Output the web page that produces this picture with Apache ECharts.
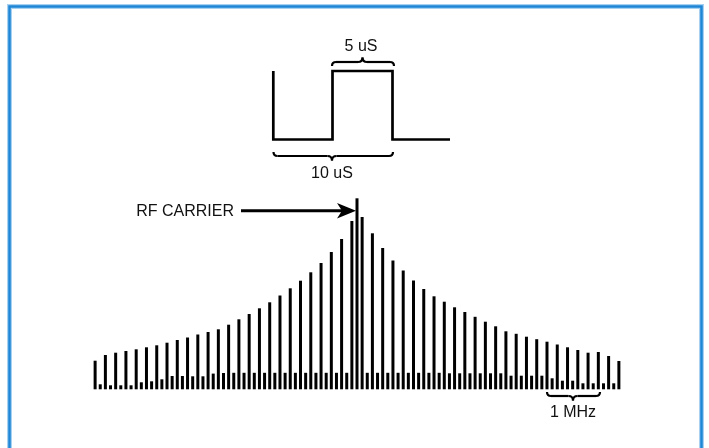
<!DOCTYPE html>
<html>
<head>
<meta charset="utf-8">
<script src="https://cdn.jsdelivr.net/npm/echarts@6/dist/echarts.min.js"></script>
<style>
html,body{margin:0;padding:0;background:#fff;}
#chart{width:709px;height:448px;}
</style>
</head>
<body>
<div id="chart"></div>
<script>
// Spectrum line amplitudes (arbitrary units)
// Tall sidebands, left side, from outermost (k=25) to innermost (k=0)
var tallLeftAmps = [28.6, 34.3, 36.6, 38.3, 40, 42, 44, 46.6, 49.3, 51.8, 54.8, 57.3, 60, 64.6, 70, 75.3, 81, 87, 93.8, 101, 108.6, 117, 126.3, 137.3, 150.3, 168.3];
// RF carrier
var carrierAmp = 191;
// Tall sidebands, right side, from innermost (k=0) to outermost (k=25)
var tallRightAmps = [172.3, 156, 141.3, 128.8, 118.8, 108.8, 100.3, 93, 87.6, 82, 77.3, 72.5, 67.6, 63, 58, 55.5, 52.6, 50.1, 47.6, 44.8, 42, 39.3, 36.6, 37.3, 33.3, 28.3];
// Small lines between tall lines, left side, outermost (k=25) to innermost (k=1)
var smallLeftAmps = [5, 4, 4, 4, 7, 8, 10, 13.3, 13.3, 13, 13, 15.7, 16.3, 16.5, 16.5, 16.5, 16.5, 16.5, 16.5, 16.5, 16.5, 16.5, 16.5, 16.5, 16.5];
// Small lines, right side, innermost (k=1) to outermost (k=25)
var smallRightAmps = [16.5, 16.5, 16.5, 16.5, 16.5, 16.5, 16.5, 16.5, 16, 16, 16, 16, 16, 16, 13.6, 13.6, 13.6, 13.6, 11, 8.6, 8.6, 6, 6, 6, 6];

// Text labels
var labelPulseWidth = '5 uS';
var labelPeriod = '10 uS';
var labelCarrier = 'RF CARRIER';
var labelSpacing = '1 MHz';

// Build the ordered slot list (half-line spacing per slot)
var categories = [];
var values = [];
for (var j = 0; j < tallLeftAmps.length; j++) {
  values.push(tallLeftAmps[j]);
  if (j < smallLeftAmps.length) values.push(smallLeftAmps[j]);
}
values.push(carrierAmp);
for (var j2 = 0; j2 < tallRightAmps.length; j2++) {
  values.push(tallRightAmps[j2]);
  if (j2 < smallRightAmps.length) values.push(smallRightAmps[j2]);
}
var mid = (values.length - 1) / 2;
for (var i = 0; i < values.length; i++) categories.push(String((i - mid) / 2));

var FONT = '16px "Liberation Sans", Arial, sans-serif';
var INK = '#111';

// horizontal curly brace; s=+1: ends curl down, tip up; s=-1: ends curl up, tip down
function brace(x1, x2, xm, y, s) {
  var st = {stroke: '#000', lineWidth: 2.2, fill: 'none'};
  var e = 4, t = 4.5;
  return [
    {type: 'bezierCurve', shape: {x1: x1, y1: y + e * s, cpx1: x1, cpy1: y, x2: x1 + 4, y2: y}, style: st},
    {type: 'line', shape: {x1: x1 + 4, y1: y, x2: xm - t, y2: y}, style: st},
    {type: 'bezierCurve', shape: {x1: xm - t, y1: y, cpx1: xm, cpy1: y, x2: xm, y2: y - t * s}, style: st},
    {type: 'bezierCurve', shape: {x1: xm, y1: y - t * s, cpx1: xm, cpy1: y, x2: xm + t, y2: y}, style: st},
    {type: 'line', shape: {x1: xm + t, y1: y, x2: x2 - 4, y2: y}, style: st},
    {type: 'bezierCurve', shape: {x1: x2 - 4, y1: y, cpx1: x2, cpy1: y, x2: x2, y2: y + e * s}, style: st}
  ];
}

var graphics = [
  // frame
  {type: 'rect', shape: {x: 9.5, y: 6.5, width: 692, height: 470}, style: {fill: 'none', stroke: '#a8d0f0', lineWidth: 5}},
  {type: 'rect', shape: {x: 9.5, y: 6.5, width: 692, height: 470}, style: {fill: 'none', stroke: '#1f86d6', lineWidth: 2.5}},
  // square wave
  {type: 'polyline', shape: {points: [[273.3, 71], [273.3, 139.5], [332.5, 139.5], [332.5, 71], [392.5, 71], [392.5, 139.5], [450, 139.5]]},
    style: {stroke: '#000', lineWidth: 2.7, fill: 'none', lineJoin: 'miter'}},
  // arrow
  {type: 'line', shape: {x1: 241, y1: 210.7, x2: 346, y2: 210.7}, style: {stroke: '#000', lineWidth: 3}},
  {type: 'polygon', shape: {points: [[356, 210.7], [337, 203], [342, 210.7], [337, 218.4]]}, style: {fill: '#000'}},
  // texts
  {type: 'text', x: 361, y: 46.5, style: {text: labelPulseWidth, font: FONT, fill: INK, textAlign: 'center', textVerticalAlign: 'middle'}},
  {type: 'text', x: 332, y: 174, style: {text: labelPeriod, font: FONT, fill: INK, textAlign: 'center', textVerticalAlign: 'middle'}},
  {type: 'text', x: 234, y: 211.5, style: {text: labelCarrier, font: FONT, fill: INK, textAlign: 'right', textVerticalAlign: 'middle'}},
  {type: 'text', x: 573, y: 413, style: {text: labelSpacing, font: FONT, fill: INK, textAlign: 'center', textVerticalAlign: 'middle'}}
];
graphics = graphics.concat(brace(332, 394, 362.5, 62, 1));
graphics = graphics.concat(brace(273.5, 393, 332, 156, -1));
graphics = graphics.concat(brace(547, 600, 573, 396, -1));

var chart = echarts.init(document.getElementById('chart'), null, {renderer: 'canvas'});
chart.setOption({
  backgroundColor: '#ffffff',
  animation: false,
  grid: {left: 92.55, right: 87.55, top: 189.3, bottom: 58.7},
  xAxis: {type: 'category', data: categories, show: false},
  yAxis: {type: 'value', min: 0, max: 200, show: false},
  series: [{
    type: 'bar',
    data: values,
    barWidth: 3,
    itemStyle: {color: '#000'},
    silent: true
  }],
  graphic: graphics
});
</script>
</body>
</html>
